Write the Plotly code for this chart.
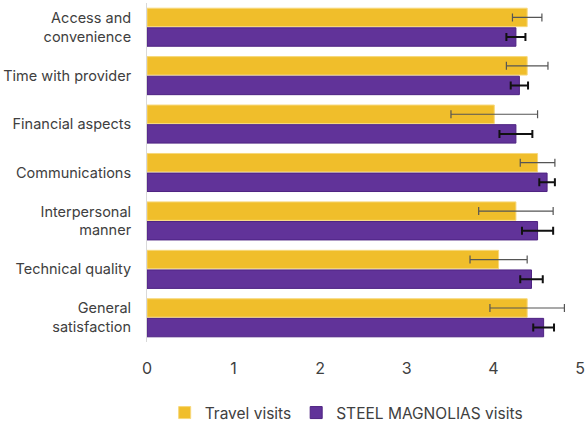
import plotly.graph_objects as go

categories = ["Access and<br>convenience", "Time with provider", "Financial aspects",
              "Communications", "Interpersonal<br>manner", "Technical quality",
              "General<br>satisfaction"]
travel = [4.39, 4.39, 4.01, 4.51, 4.26, 4.06, 4.39]
travel_err = [0.17, 0.24, 0.50, 0.20, 0.43, 0.33, 0.43]
steel = [4.26, 4.30, 4.26, 4.62, 4.51, 4.44, 4.58]
steel_err = [0.11, 0.10, 0.19, 0.09, 0.18, 0.13, 0.12]
x_ticks = [0, 1, 2, 3, 4, 5]

fig = go.Figure()
fig.add_trace(go.Bar(
    y=categories, x=travel, orientation="h", name="Travel visits",
    marker=dict(color="#F0BE2B", line=dict(color="#F7D87A", width=1)),
    error_x=dict(type="data", array=travel_err, color="#555555", thickness=1.2, width=4),
))
fig.add_trace(go.Bar(
    y=categories, x=steel, orientation="h", name="STEEL MAGNOLIAS visits",
    marker=dict(color="#613399", line=dict(color="#4E2382", width=1)),
    error_x=dict(type="data", array=steel_err, color="#111111", thickness=2, width=4),
))

fig.update_layout(
    width=588, height=426,
    margin=dict(l=147, r=8, t=3, b=84, autoexpand=False),
    barmode="group", bargap=0.19, bargroupgap=0.06,
    plot_bgcolor="white", paper_bgcolor="white",
    font=dict(family="Inter, Noto Sans, sans-serif", size=14.5, color="#404040"),
    showlegend=True,
    legend=dict(orientation="h", x=0.46, xanchor="center",
                yref="container", y=1 - 413 / 426, yanchor="middle",
                font=dict(size=15.5, color="#404040"), itemwidth=30, traceorder="normal"),
    xaxis=dict(range=[0, 5], tickvals=x_ticks, showgrid=False, zeroline=False,
               showline=False, ticks="outside", ticklen=12, tickcolor="rgba(0,0,0,0)",
               tickfont=dict(size=16), automargin=False),
    yaxis=dict(autorange="reversed", showgrid=False, showline=True, linecolor="#D9D9D9",
               linewidth=1, ticks="outside", ticklen=12, tickcolor="rgba(0,0,0,0)",
               automargin=False),
)

fig.write_html("out.html")
